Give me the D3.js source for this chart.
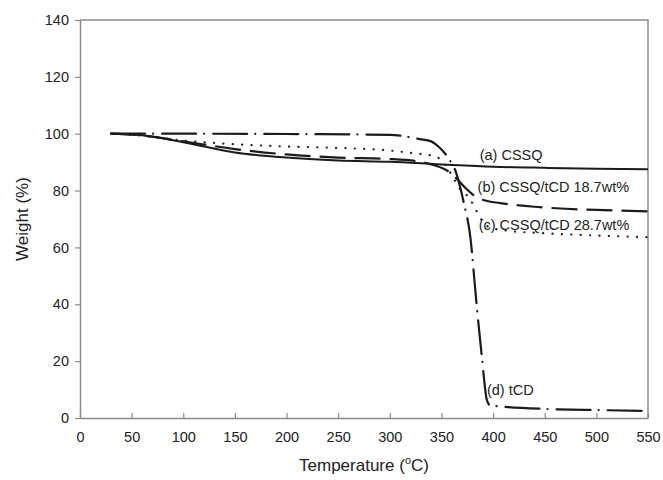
<!DOCTYPE html>
<html>
<head>
<meta charset="utf-8">
<script src="https://cdn.jsdelivr.net/npm/d3@7"></script>
<style>
  body { margin: 0; background: #fff; }
  text { font-family: "Liberation Sans", Arial, Helvetica, sans-serif; fill: #222; }
</style>
</head>
<body>
<svg id="chart"></svg>
<script>
// TGA curves
const xTicks = [0, 50, 100, 150, 200, 250, 300, 350, 400, 450, 500, 550];
const yTicks = [0, 20, 40, 60, 80, 100, 120, 140];

const cssqT = [30, 60, 100, 150, 200, 250, 300, 350, 400, 450, 500, 550];
const cssqW = [100, 99.5, 97.0, 93.4, 91.6, 90.6, 90.1, 89.2, 88.4, 88.0, 87.7, 87.5];

const cd187T = [30, 60, 100, 150, 200, 250, 300, 330, 342, 358, 366, 373, 381, 390, 407, 420, 440, 470, 500, 550];
const cd187W = [100, 99.4, 97.3, 94.6, 92.7, 91.6, 91.1, 90.1, 89.0, 86.4, 83.7, 81.0, 78.4, 76.8, 75.6, 75.0, 74.3, 73.6, 73.2, 72.7];

const cd287T = [30, 60, 100, 150, 200, 250, 300, 324, 342, 350, 360, 368, 376, 381, 385, 389, 397, 416, 450, 500, 550];
const cd287W = [100, 99.3, 97.6, 96.3, 95.5, 95.0, 94.1, 93.1, 92.2, 90.7, 85.5, 80.5, 77.8, 74.9, 72.1, 69.6, 67.0, 65.8, 65.0, 64.2, 63.6];

const tcdT = [30, 100, 200, 300, 329, 340, 347, 358, 364, 368, 371, 378, 384, 389, 394, 397, 410, 450, 500, 550];
const tcdW = [100, 100, 99.9, 99.6, 98.1, 97.3, 95.5, 90.7, 86.5, 81.4, 76.7, 63.5, 40.0, 22.0, 6.3, 4.5, 4.0, 3.2, 2.8, 2.5];

const seriesNames = ["(a) CSSQ", "(b) CSSQ/tCD 18.7wt%", "(c) CSSQ/tCD 28.7wt%", "(d) tCD"];

// layout
const width = 663;
const height = 480;
const margin = { top: 20, right: 15, bottom: 62, left: 80 };
const plotW = width - margin.left - margin.right;
const plotH = height - margin.top - margin.bottom;
const axisColor = "#8a8a8a";
const lineColor = "#1b1b1b";

const svg = d3.select("#chart").attr("width", width).attr("height", height);
const g = svg.append("g").attr("transform", `translate(${margin.left},${margin.top})`);

const x = d3.scaleLinear().domain([0, 550]).range([0, plotW]);
const y = d3.scaleLinear().domain([0, 140]).range([plotH, 0]);

// frame (top + right)
g.append("path")
    .attr("d", `M0,0 H${plotW} V${plotH}`)
    .attr("fill", "none")
    .attr("stroke", axisColor)
    .attr("stroke-width", 1.5);

const xAxis = g.append("g")
    .attr("transform", `translate(0,${plotH})`)
    .call(d3.axisBottom(x).tickValues(xTicks).tickSizeInner(-5).tickSizeOuter(0).tickPadding(14));

const yAxis = g.append("g")
    .call(d3.axisLeft(y).tickValues(yTicks).tickSizeInner(5).tickSizeOuter(0).tickPadding(6));

[xAxis, yAxis].forEach(ax => {
    ax.select(".domain").attr("stroke", axisColor).attr("stroke-width", 1.5);
    ax.selectAll(".tick line").attr("stroke", axisColor).attr("stroke-width", 1.2);
    ax.selectAll(".tick text")
        .attr("font-size", 14.5)
        .attr("font-family", "\"Liberation Sans\", Arial, sans-serif")
        .attr("fill", "#222");
});

// curves
const line = d3.line()
    .x(d => x(d[0]))
    .y(d => y(d[1]))
    .curve(d3.curveMonotoneX);

const series = [
    { t: cssqT, w: cssqW, dash: null, width: 2 },
    { t: cd187T, w: cd187W, dash: "26,9", width: 2.2 },
    { t: cd287T, w: cd287W, dash: "0.1,9.3", width: 2.2, cap: "round" },
    { t: tcdT, w: tcdW, dash: "34,8,0.1,9", width: 2.2, cap: "round" }
];

g.selectAll(".curve")
    .data(series)
    .enter().append("path")
    .attr("class", "curve")
    .attr("d", s => line(d3.zip(s.t, s.w)))
    .attr("fill", "none")
    .attr("stroke", lineColor)
    .attr("stroke-width", s => s.width)
    .attr("stroke-linecap", s => s.cap || "butt")
    .attr("stroke-dasharray", s => s.dash);

// curve labels (data coords)
const labelPos = [[387, 90.6], [385, 79.6], [386, 66.3], [394, 8.0]];
g.selectAll(".curveLabel")
    .data(seriesNames)
    .enter().append("text")
    .attr("class", "curveLabel")
    .attr("x", (d, i) => x(labelPos[i][0]))
    .attr("y", (d, i) => y(labelPos[i][1]))
    .attr("font-size", 14.5)
    .text(d => d);

// axis titles
const xTitle = svg.append("text")
    .attr("x", margin.left + plotW / 2)
    .attr("y", 471)
    .attr("text-anchor", "middle")
    .attr("font-size", 17);
xTitle.append("tspan").text("Temperature (");
xTitle.append("tspan").attr("dy", -7).attr("font-size", 11).text("o");
xTitle.append("tspan").attr("dy", 7).text("C)");

svg.append("text")
    .attr("transform", `translate(28,${margin.top + plotH / 2}) rotate(-90)`)
    .attr("text-anchor", "middle")
    .attr("font-size", 17)
    .text("Weight (%)");
</script>
</body>
</html>
